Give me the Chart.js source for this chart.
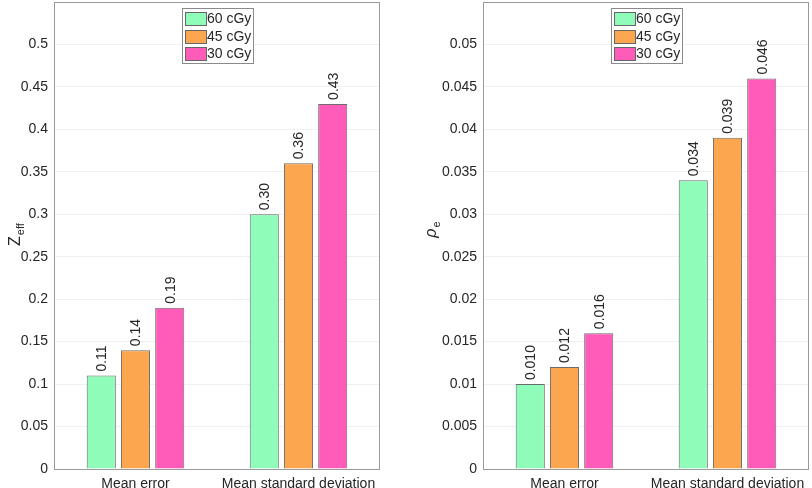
<!DOCTYPE html>
<html><head><meta charset="utf-8">
<script src="https://cdn.jsdelivr.net/npm/chart.js@4"></script>
<style>
html,body{margin:0;padding:0;background:#fff;}
#w{position:relative;width:812px;height:488px;}
.c{position:absolute;top:0;height:488px;}
</style></head><body>
<div id="w">
<div class="c" style="left:0;width:406px"><canvas id="c1"></canvas></div>
<div class="c" style="left:406px;width:406px"><canvas id="c2"></canvas></div>
</div>
<script>
const categories = ["Mean error", "Mean standard deviation"];
const seriesNames = ["60 cGy", "45 cGy", "30 cGy"];
const zeffValues = [[0.11, 0.30], [0.14, 0.36], [0.19, 0.43]];
const zeffLabels = [["0.11", "0.30"], ["0.14", "0.36"], ["0.19", "0.43"]];
const rhoValues = [[0.010, 0.034], [0.012, 0.039], [0.016, 0.046]];
const rhoLabels = [["0.010", "0.034"], ["0.012", "0.039"], ["0.016", "0.046"]];
const colors = ["#8FFDB9", "#FCA64F", "#FF5CB9"];
const FONT = "'Liberation Sans', Arial, sans-serif";

function fmt(v){ return String(parseFloat(v.toFixed(4))); }

const overlay = {
  id: 'overlay',
  afterDatasetsDraw(chart, args, opts) {
    const ctx = chart.ctx, a = chart.chartArea;
    ctx.save();
    // box
    ctx.strokeStyle = '#9a9a9a'; ctx.lineWidth = 1;
    ctx.strokeRect(Math.round(a.left)+0.5, Math.round(a.top)+0.5, Math.round(a.right-a.left)-1, Math.round(a.bottom-a.top));
    // value labels
    ctx.fillStyle = '#262626';
    ctx.font = '14px ' + FONT;
    chart.data.datasets.forEach((ds, di) => {
      const meta = chart.getDatasetMeta(di);
      meta.data.forEach((bar, i) => {
        ctx.save();
        ctx.translate(bar.x + 1, bar.y - 4);
        ctx.rotate(-Math.PI/2);
        ctx.textAlign = 'left'; ctx.textBaseline = 'middle';
        ctx.fillText(opts.labels[di][i], 0, 0);
        ctx.restore();
      });
    });
    // legend
    const lx = opts.legendX, ly = opts.legendY, lw = 71, lh = 55;
    ctx.fillStyle = '#fff';
    ctx.fillRect(lx, ly, lw, lh);
    ctx.strokeStyle = '#8a8a8a';
    ctx.strokeRect(lx+0.5, ly+0.5, lw, lh);
    chart.data.datasets.forEach((ds, di) => {
      const y = ly + 4 + di*17.5;
      ctx.fillStyle = ds.backgroundColor;
      ctx.fillRect(lx+3.5, Math.round(y)+0.5, 21, 13);
      ctx.strokeStyle = '#666';
      ctx.strokeRect(lx+3.5, Math.round(y)+0.5, 21, 13);
      ctx.fillStyle = '#262626';
      ctx.textAlign = 'left'; ctx.textBaseline = 'middle';
      ctx.font = '14px ' + FONT;
      ctx.fillText(ds.label, lx+25, y+7.5);
    });
    // y title
    ctx.save();
    ctx.translate(opts.titleX, opts.titleY);
    ctx.rotate(-Math.PI/2);
    ctx.fillStyle = '#262626';
    ctx.textBaseline = 'alphabetic';
    ctx.textAlign = 'left';
    ctx.font = (opts.italic ? 'italic ' : '') + '16px ' + FONT;
    const mw = ctx.measureText(opts.main).width;
    ctx.font = '11px ' + FONT;
    const sw = ctx.measureText(opts.sub).width;
    const start = -(mw + sw)/2;
    ctx.font = (opts.italic ? 'italic ' : '') + '16px ' + FONT;
    ctx.fillText(opts.main, start, 0);
    ctx.font = '11px ' + FONT;
    ctx.fillText(opts.sub, start + mw + 1, 4);
    ctx.restore();
    ctx.restore();
  }
};

function make(id, values, labels, maxV, step, maxLabel, yW, padR, legendX, title) {
  const datasets = seriesNames.map((n, i) => ({
    label: n, data: values[i], backgroundColor: colors[i],
    borderColor: '#6b6b6b', borderWidth: 1, borderSkipped: 'bottom',
    categoryPercentage: 0.63, barPercentage: 0.85
  }));
  return new Chart(document.getElementById(id), {
    type: 'bar',
    data: { labels: categories, datasets },
    plugins: [overlay],
    options: {
      responsive: true, maintainAspectRatio: false, animation: false,
      layout: { padding: { top: 2, right: padR, left: 0, bottom: 0 } },
      plugins: {
        legend: { display: false }, tooltip: { enabled: false },
        overlay: Object.assign({ labels, legendX, legendY: 8 }, title)
      },
      scales: {
        x: {
          grid: { display: false, drawTicks: false },
          border: { display: false },
          ticks: { color: '#262626', font: { family: FONT, size: 14 }, padding: 7 },
          afterFit(s) { s.height = 19; s.paddingLeft = 0; s.paddingRight = 0; }
        },
        y: {
          min: 0, max: maxV,
          grid: { color: '#f0f0f0', drawTicks: false },
          border: { display: false },
          ticks: {
            stepSize: step, color: '#262626', font: { family: FONT, size: 14 }, padding: 6,
            callback: v => (v > maxLabel + 1e-9 ? '' : fmt(v))
          },
          afterFit(s) { s.width = yW; s.paddingTop = 0; s.paddingBottom = 0; }
        }
      }
    }
  });
}

make('c1', zeffValues, zeffLabels, 0.55, 0.05, 0.5, 54, 26, 182,
  { main: 'Z', sub: 'eff', italic: false, titleX: 20, titleY: 235 });
make('c2', rhoValues, rhoLabels, 0.055, 0.005, 0.05, 77, 3, 205,
  { main: 'ρ', sub: 'e', italic: true, titleX: 30, titleY: 230 });
</script>
</body></html>
